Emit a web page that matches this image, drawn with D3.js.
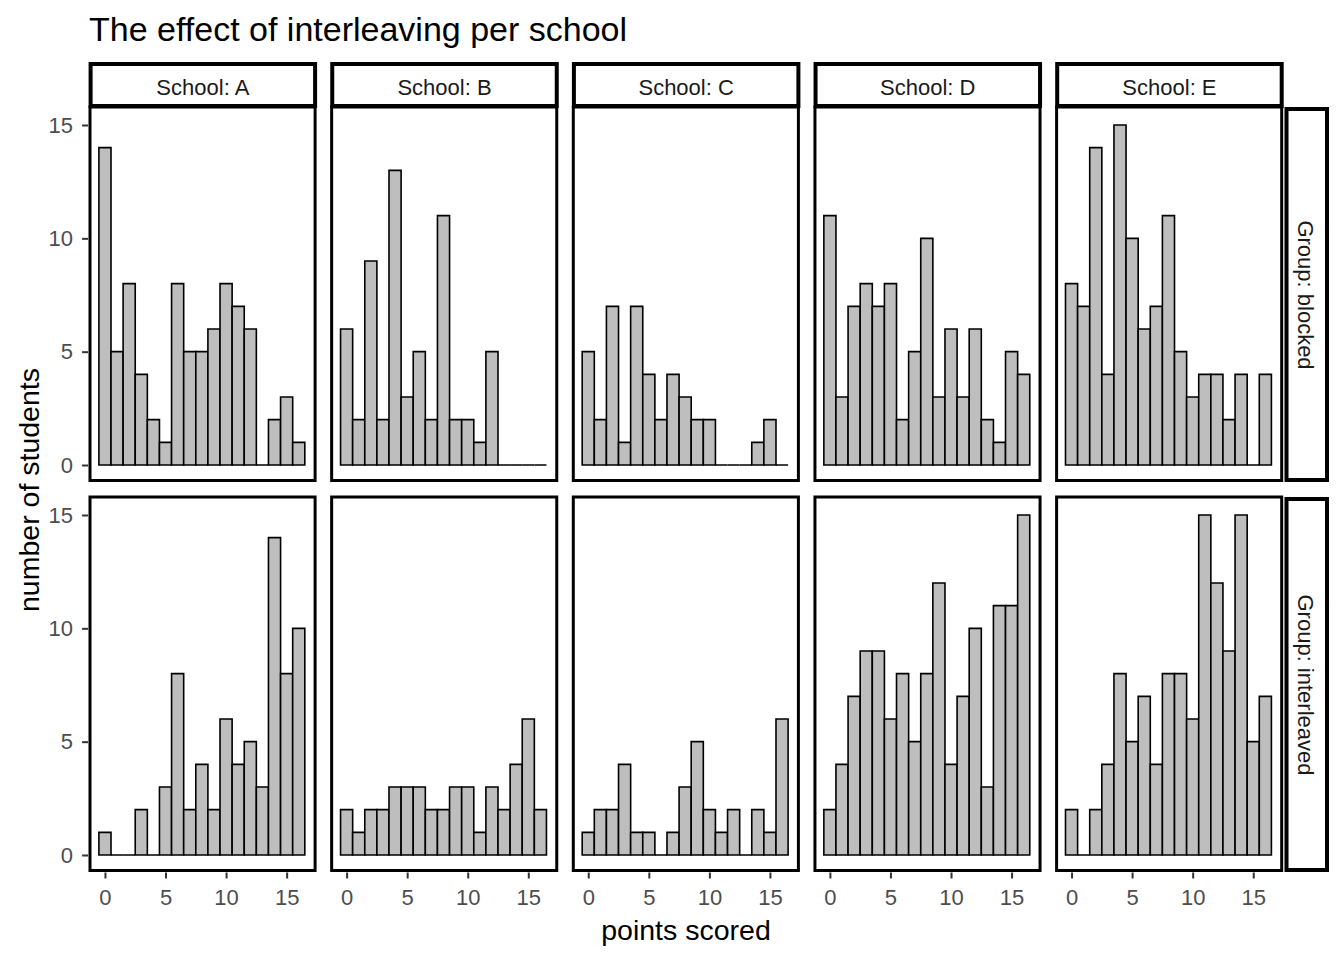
<!DOCTYPE html>
<html>
<head>
<meta charset="utf-8">
<script src="https://cdn.jsdelivr.net/npm/d3@7"></script>
<style>
  body { margin: 0; background: #fff; }
  text { font-family: "Liberation Sans", Arial, sans-serif; }
</style>
</head>
<body>
<svg id="chart"></svg>
<script>
// histogram counts, one value per integer score bin (0..16)
var schools = ["A", "B", "C", "D", "E"];
var groups = ["blocked", "interleaved"];
var bins = [0, 1, 2, 3, 4, 5, 6, 7, 8, 9, 10, 11, 12, 13, 14, 15, 16];
var xTicks = [0, 5, 10, 15];
var yTicks = [0, 5, 10, 15];

var blockedA = [14, 5, 8, 4, 2, 1, 8, 5, 5, 6, 8, 7, 6, 0, 2, 3, 1];
var blockedB = [6, 2, 9, 2, 13, 3, 5, 2, 11, 2, 2, 1, 5, 0, 0, 0, 0];
var blockedC = [5, 2, 7, 1, 7, 4, 2, 4, 3, 2, 2, 0, 0, 0, 1, 2, 0];
var blockedD = [11, 3, 7, 8, 7, 8, 2, 5, 10, 3, 6, 3, 6, 2, 1, 5, 4];
var blockedE = [8, 7, 14, 4, 15, 10, 6, 7, 11, 5, 3, 4, 4, 2, 4, 0, 4];

var interleavedA = [1, 0, 0, 2, 0, 3, 8, 2, 4, 2, 6, 4, 5, 3, 14, 8, 10];
var interleavedB = [2, 1, 2, 2, 3, 3, 3, 2, 2, 3, 3, 1, 3, 2, 4, 6, 2];
var interleavedC = [1, 2, 2, 4, 1, 1, 0, 1, 3, 5, 2, 1, 2, 0, 2, 1, 6];
var interleavedD = [2, 4, 7, 9, 9, 6, 8, 5, 8, 12, 4, 7, 10, 3, 11, 11, 15];
var interleavedE = [2, 0, 2, 4, 8, 5, 7, 4, 8, 8, 6, 15, 12, 9, 15, 5, 7];

var counts = {
  blocked: [blockedA, blockedB, blockedC, blockedD, blockedE],
  interleaved: [interleavedA, interleavedB, interleavedC, interleavedD, interleavedE]
};

var screen = {width: 1344, height: 960};
var colLeft = 88.6, colStep = 241.65, panelW = 226.5;
var rowTop = [108, 498], panelH = 374;

var svg = d3.select("#chart")
  .attr("width", screen.width)
  .attr("height", screen.height);

// title
svg.append("text")
  .attr("x", 89)
  .attr("y", 41)
  .style("font-size", "34px")
  .text("The effect of interleaving per school");

groups.forEach(function(g, ri) {
  var y0 = rowTop[ri];
  var y = d3.scaleLinear().domain([-0.75, 15.75]).range([y0 + panelH, y0]);

  schools.forEach(function(s, ci) {
    var x0 = colLeft + ci * colStep;
    var x = d3.scaleLinear().domain([-1.35, 17.35]).range([x0, x0 + panelW]);
    var p = svg.append("g").attr("class", "panel");

    // bars drawn as paths so zero-count bins still show as a line
    p.selectAll("path.bar")
      .data(bins)
      .enter().append("path")
      .attr("class", "bar")
      .attr("d", function(b, i) {
        var l = x(b - 0.5), r = x(b + 0.5);
        var top = y(counts[g][ci][i]), base = y(0);
        return "M" + l + "," + base + "L" + l + "," + top + "L" + r + "," + top + "L" + r + "," + base + "Z";
      })
      .style("fill", "#bebebe")
      .style("stroke", "black")
      .style("stroke-width", 1.6);

    // panel border
    p.append("rect")
      .attr("x", x0 + 1.4)
      .attr("y", y0 - 1)
      .attr("width", panelW - 1.4)
      .attr("height", panelH - 0.5)
      .style("fill", "none")
      .style("stroke", "black")
      .style("stroke-width", 3);

    // y axis on first column
    if (ci == 0) {
      var ya = svg.append("g")
        .attr("transform", "translate(" + (x0 - 0.5) + ",0)")
        .call(d3.axisLeft(y).tickValues(yTicks).tickSize(6).tickPadding(9));
      ya.select(".domain").remove();
      ya.selectAll(".tick line").style("stroke", "#333").style("stroke-width", 2);
      ya.selectAll(".tick text")
        .style("font-size", "22px")
        .style("fill", "#4d4d4d")
        .style("font-family", "'Liberation Sans', Arial, sans-serif");
    }

    // x axis on bottom row
    if (ri == 1) {
      var xa = svg.append("g")
        .attr("transform", "translate(0," + (y0 + panelH + 0.5) + ")")
        .call(d3.axisBottom(x).tickValues(xTicks).tickSize(6).tickPadding(11));
      xa.select(".domain").remove();
      xa.selectAll(".tick line").style("stroke", "#333").style("stroke-width", 2);
      xa.selectAll(".tick text")
        .style("font-size", "22px")
        .style("fill", "#4d4d4d")
        .style("font-family", "'Liberation Sans', Arial, sans-serif");
    }

    // top strips
    if (ri == 0) {
      svg.append("rect")
        .attr("x", x0 + 2)
        .attr("y", 64)
        .attr("width", panelW - 2)
        .attr("height", 42)
        .style("fill", "white")
        .style("stroke", "black")
        .style("stroke-width", 4);
      svg.append("text")
        .attr("x", x0 + 1 + panelW / 2)
        .attr("y", 95)
        .attr("text-anchor", "middle")
        .style("font-size", "22px")
        .style("fill", "#1a1a1a")
        .text("School: " + s);
    }
  });

  // right strip
  svg.append("rect")
    .attr("x", 1286.5)
    .attr("y", y0 + 1)
    .attr("width", 40.5)
    .attr("height", panelH - 3)
    .style("fill", "white")
    .style("stroke", "black")
    .style("stroke-width", 4);
  svg.append("text")
    .attr("transform", "translate(1298," + (y0 + panelH / 2) + ") rotate(90)")
    .attr("text-anchor", "middle")
    .style("font-size", "22px")
    .style("fill", "#1a1a1a")
    .text("Group: " + g);
});

// axis titles
svg.append("text")
  .attr("x", 686)
  .attr("y", 940)
  .attr("text-anchor", "middle")
  .style("font-size", "28.5px")
  .text("points scored");

svg.append("text")
  .attr("transform", "translate(39,490) rotate(-90)")
  .attr("text-anchor", "middle")
  .style("font-size", "28.5px")
  .text("number of students");
</script>
</body>
</html>
